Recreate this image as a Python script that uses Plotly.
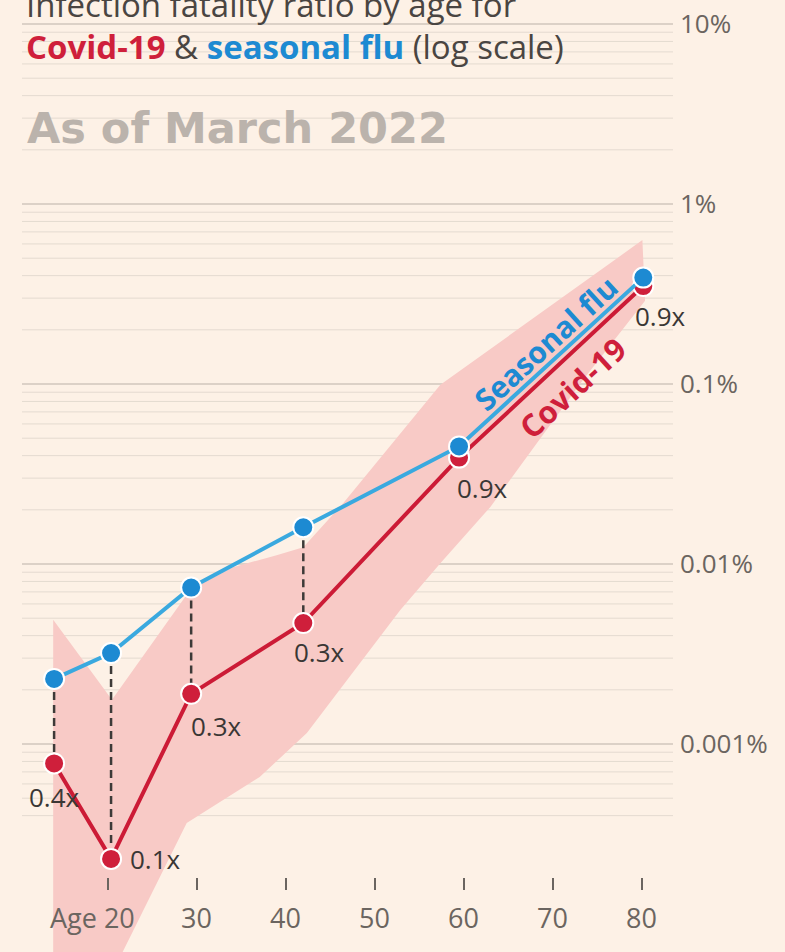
import math
import plotly.graph_objects as go

# ---------------- data ----------------
ages = [14, 20.4, 29.4, 42, 59.5, 80.2]
flu_ifr = [0.0023, 0.0032, 0.0074, 0.016, 0.045, 0.39]          # % infection fatality ratio
covid_ifr = [0.00078, 0.00023, 0.0019, 0.0047, 0.039, 0.35]     # %
ratio_labels = ["0.4x", "0.1x", "0.3x", "0.3x", "0.9x", "0.9x"]

band_upper_age = [13.9, 20.5, 29.3, 34.1, 39.0, 42.0, 46.5, 57.4, 80.1]
band_upper_ifr = [0.0049, 0.00176, 0.0072, 0.0096, 0.0112, 0.0124, 0.0218, 0.099, 0.63]
band_lower_age = [80.4, 73.4, 63.0, 57.4, 52.9, 42.4, 37.1, 28.9, 21.7, 20.5, 13.9]
band_lower_ifr = [0.29, 0.105, 0.0207, 0.0101, 0.00555, 0.00115, 0.000656, 0.000364,
                  0.00007, 0.00005, 0.00005]

x_tickvals = [20, 30, 40, 50, 60, 70, 80]
x_ticktext = ["", "30", "40", "50", "60", "70", "80"]
y_tickvals = [10, 1, 0.1, 0.01, 0.001]
y_ticktext = ["10%", "1%", "0.1%", "0.01%", "0.001%"]

# ---------------- style ----------------
W, H = 785, 952
BG = "#fdf1e6"
RED = "#cf1f3b"
RED_LINE = "#cc1b36"
BLUE = "#1d8ad2"
BLUE_LINE = "#3aa9df"
BAND = "#f8cac6"
GREY_TXT = "#4a4542"
AXIS_TXT = "#6b6560"
FONT = "'Open Sans', Lato, sans-serif"
FONT_WIDE = "'DejaVu Sans', 'Open Sans', sans-serif"

def px(xp):
    return xp / W

def py(yp):
    return 1 - yp / H

fig = go.Figure()

# confidence band
fig.add_trace(go.Scatter(
    x=band_upper_age + band_lower_age,
    y=band_upper_ifr + band_lower_ifr,
    mode="lines", fill="toself", fillcolor=BAND,
    line=dict(width=0), hoverinfo="skip", showlegend=False))

# dashed connectors between flu and covid points (first four ages)
dx_, dy_ = [], []
for i in range(4):
    dx_ += [ages[i], ages[i], None]
    dy_ += [flu_ifr[i], covid_ifr[i], None]
fig.add_trace(go.Scatter(x=dx_, y=dy_, mode="lines",
                         line=dict(color="#3d3a38", width=2.5, dash="8px,5px"),
                         hoverinfo="skip", showlegend=False))

# covid
fig.add_trace(go.Scatter(x=ages, y=covid_ifr, mode="lines+markers",
                         line=dict(color=RED_LINE, width=4),
                         marker=dict(size=20, color=RED, line=dict(color="white", width=2)),
                         showlegend=False, name="Covid-19"))
# flu
fig.add_trace(go.Scatter(x=ages, y=flu_ifr, mode="lines+markers",
                         line=dict(color=BLUE_LINE, width=4),
                         marker=dict(size=20, color=BLUE, line=dict(color="white", width=2)),
                         showlegend=False, name="Seasonal flu"))

# gridlines (log-scale minor + major)
shapes = []
for e in range(-4, 2):
    for m in range(1, 10):
        v = m * 10 ** e
        if v < 0.00039 or v > 10.01:
            continue
        major = (m == 1)
        shapes.append(dict(type="line", xref="paper", yref="y",
                           x0=px(22), x1=px(673), y0=v, y1=v, layer="below",
                           line=dict(color="#d0c6bd" if major else "#e4dad0",
                                     width=1.3 if major else 1)))

annotations = []
# title
annotations.append(dict(text="Infection fatality ratio by age for", xref="paper", yref="paper",
                        x=px(24), y=py(5), xanchor="left", yanchor="middle", showarrow=False,
                        font=dict(family=FONT, size=33, color=GREY_TXT)))
annotations.append(dict(
    text=f"<b><span style='color:{RED}'>Covid-19</span></b> &amp; "
         f"<b><span style='color:{BLUE}'>seasonal flu</span></b> (log scale)",
    xref="paper", yref="paper", x=px(24), y=py(46), xanchor="left", yanchor="middle",
    showarrow=False, font=dict(family=FONT, size=33, color=GREY_TXT)))
annotations.append(dict(text="<b>As of March 2022</b>", xref="paper", yref="paper",
                        x=px(25), y=py(128), xanchor="left", yanchor="middle", showarrow=False,
                        font=dict(family=FONT_WIDE, size=43, color="#bbb3ac")))

# ratio labels next to covid points
label_offsets = [(0, 34), (44, 0), (25, 32), (16, 29), (23, 30), (17, 30)]
for a, c, t, (ox, oy) in zip(ages, covid_ifr, ratio_labels, label_offsets):
    annotations.append(dict(text=t, x=a, y=math.log10(c), xref="x", yref="y",
                            xshift=ox, yshift=-oy, showarrow=False,
                            xanchor="center", yanchor="middle",
                            font=dict(family=FONT, size=26, color="#3a3735")))

# series labels along the lines
annotations.append(dict(text="<b>Seasonal flu</b>", xref="paper", yref="paper",
                        x=px(545), y=py(343), textangle=-42.5, showarrow=False,
                        xanchor="center", yanchor="middle",
                        font=dict(family=FONT, size=30, color=BLUE)))
annotations.append(dict(text="<b>Covid-19</b>", xref="paper", yref="paper",
                        x=px(572), y=py(388), textangle=-42.5, showarrow=False,
                        xanchor="center", yanchor="middle",
                        font=dict(family=FONT, size=31, color=RED)))

# "Age 20" first tick label
annotations.append(dict(text="Age 20", x=20, xref="x", xshift=-15, y=py(917), yref="paper",
                        showarrow=False, xanchor="center", yanchor="middle",
                        font=dict(family=FONT, size=27, color=AXIS_TXT)))

x_left = 20 - 107.5 / 8.9
x_right = 20 + (W - 107.5) / 8.9
y_top = 204 / 180
y_bot = (204 - H) / 180

fig.update_layout(
    width=W, height=H, margin=dict(l=0, r=0, t=0, b=0),
    paper_bgcolor=BG, plot_bgcolor=BG, showlegend=False,
    shapes=shapes, annotations=annotations,
    font=dict(family=FONT),
    xaxis=dict(range=[x_left, x_right], tickvals=x_tickvals, ticktext=x_ticktext,
               ticks="outside", ticklen=12, tickwidth=1.5, tickcolor=AXIS_TXT,
               ticklabelstandoff=6,
               showgrid=False, zeroline=False, showline=False,
               anchor="free", position=py(877),
               tickfont=dict(family=FONT, size=27, color=AXIS_TXT)),
    yaxis=dict(type="log", range=[y_bot, y_top], tickvals=y_tickvals, ticktext=y_ticktext,
               side="right", anchor="free", position=px(679), ticks="",
               showgrid=False, zeroline=False, showline=False,
               tickfont=dict(family=FONT, size=26, color=AXIS_TXT)),
)

fig.write_html("out.html", config={"displayModeBar": False},
               post_script="document.body.style.margin='0';document.body.style.overflow='hidden';")
